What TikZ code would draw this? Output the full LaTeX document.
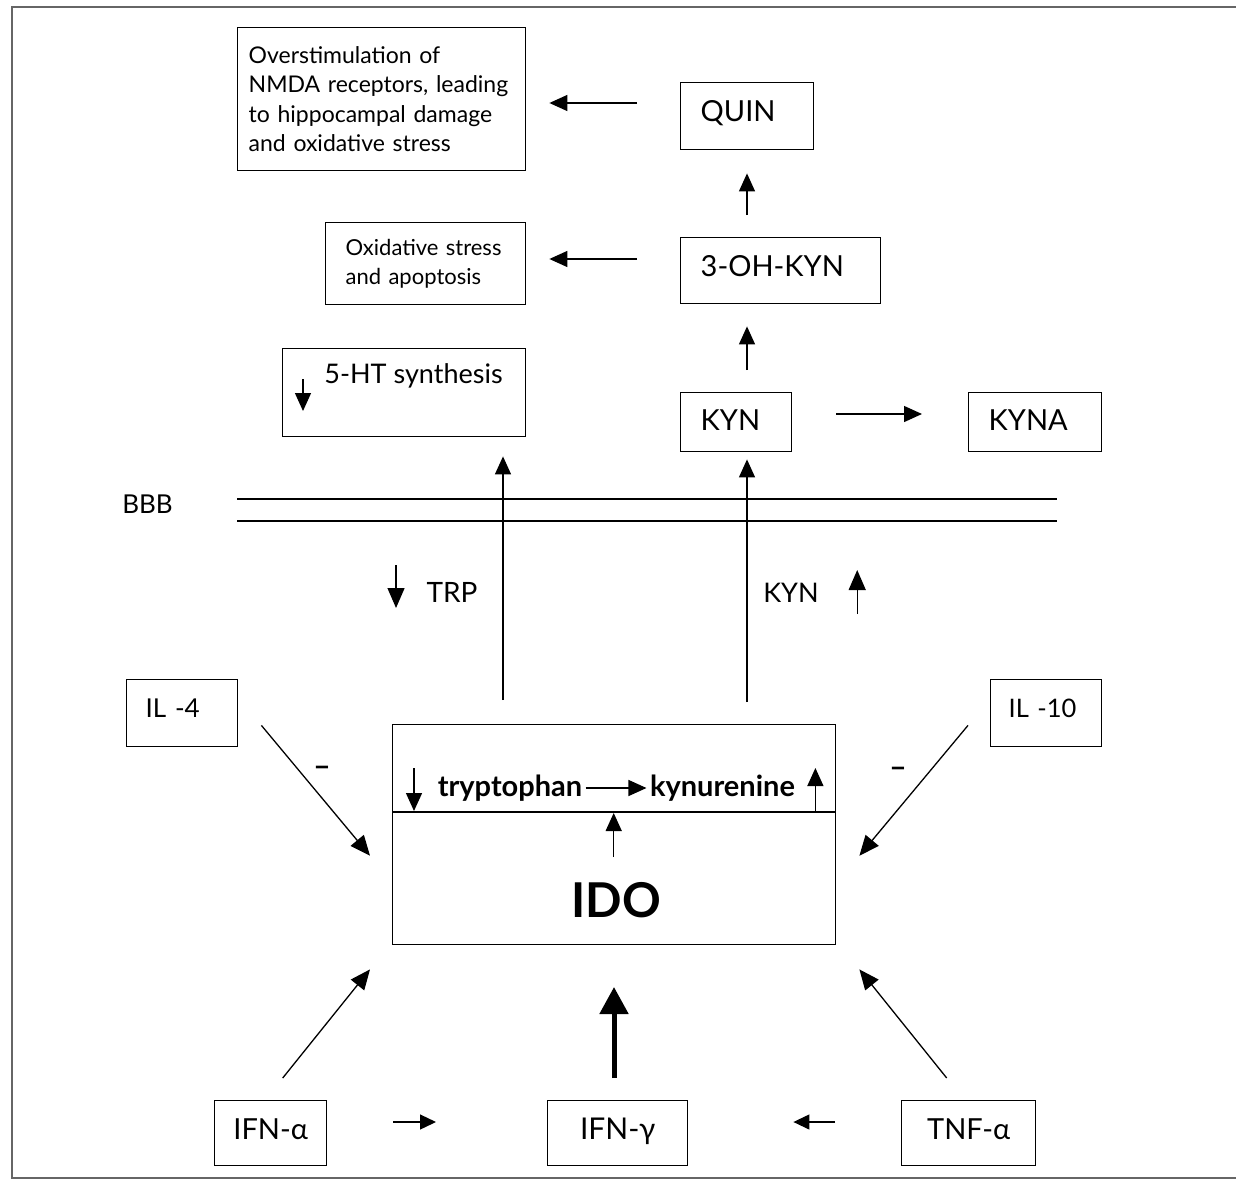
\documentclass[tikz,border=0pt]{standalone}
\usepackage{fontspec}
\setmainfont{Lato}
\usetikzlibrary{arrows.meta,calc}
\begin{document}
\begin{tikzpicture}[x=1pt,y=-1pt,
  box/.style={draw, line width=1.4pt, inner ysep=0pt, align=left, anchor=north west},
  cbox/.style={draw, line width=1.4pt, inner sep=0pt, align=center, anchor=north west},
  lift/.style={text depth=10pt},
  arr/.style={line width=1.3pt, -{Triangle[length=18pt,width=16pt]}},
  sarr/.style={line width=1.3pt, -{Triangle[length=16pt,width=15pt]}},
  darr/.style={line width=1.3pt, -{Triangle[length=20pt,width=17pt]}},
  tarr/.style={line width=5pt, -{Triangle[length=27pt,width=28pt]}},
  txt/.style={font=\fontsize{27}{31}\selectfont},
  btxt/.style={font=\bfseries\fontsize{29}{33}\selectfont},
  bigtxt/.style={font=\fontsize{29}{33}\selectfont}
]
\useasboundingbox (0,0) rectangle (1236,1183);
\fill[white] (0,0) rectangle (1236,1183);
% frame
\draw[line width=2pt, black!60] (1240,7) -- (12,7) -- (12,1178) -- (1240,1178);

% upper boxes
\node[box, inner xsep=11pt, text width=266pt, minimum height=143pt, font=\fontsize{23}{29.5}\selectfont] (nmda) at (237,27)
  {Overstimulation of\\NMDA receptors, leading\\to hippocampal damage\\and oxidative stress};
\node[box, inner xsep=20pt, text width=160pt, minimum height=82pt, font=\fontsize{22}{29}\selectfont] (ox) at (325,222)
  {Oxidative stress\\and apoptosis};
\node[box, minimum width=243pt, minimum height=88pt] (ht) at (282,348) {};
\node[font=\fontsize{27}{31}\selectfont] (httxt) at (413.5,376) {5-HT synthesis};
\draw[arr] ([shift={(21,31)}]ht.north west) -- ([shift={(21,63)}]ht.north west);

\node[box, inner xsep=20pt, text width=93pt, minimum height=67pt, lift, bigtxt] (quin) at (680,82) {QUIN};
\node[box, inner xsep=20pt, text width=160pt, minimum height=66pt, lift, bigtxt] (ohkyn) at (680,237) {3-OH-KYN};
\node[box, inner xsep=20pt, text width=71pt, minimum height=59pt, text depth=5pt, bigtxt] (kyn) at (680,392) {KYN};
\node[box, inner xsep=20pt, text width=93pt, minimum height=59pt, text depth=5pt, bigtxt] (kyna) at (968,392) {KYNA};

% arrows upper
\draw[arr, shorten <=43pt, shorten >=23pt] (quin.west |- 0,103) -- (nmda.east |- 0,103);
\draw[arr, shorten <=43pt, shorten >=23pt] (ohkyn.west |- 0,259) -- (ox.east |- 0,259);
\draw[arr, shorten <=22pt, shorten >=23pt] (ohkyn.north -| 747,0) -- (quin.south -| 747,0);
\draw[arr, shorten <=22pt, shorten >=22pt] (kyn.north -| 747,0) -- (ohkyn.south -| 747,0);
\draw[arr, shorten <=44pt, shorten >=46pt] (kyn.east |- 0,414) -- (kyna.west |- 0,414);

% BBB
\node[font=\fontsize{26}{30}\selectfont] (bbb) at (147.5,504) {BBB};
\draw[line width=1.3pt] (237,499) -- (1057,499);
\draw[line width=1.3pt] (237,521) -- (1057,521);

% IDO
\node[box, minimum width=443pt, minimum height=220pt] (ido) at (392,724) {};
\draw[line width=1.4pt] ([yshift=-88pt]ido.north west) -- ([yshift=-88pt]ido.north east);
\node[btxt] (tryp) at (510,788) {tryptophan};
\node[btxt] (kynu) at (722.5,788) {kynurenine};
\draw[arr] (tryp.east) -- (kynu.west);
\draw[arr] ([shift={(22,44)}]ido.north west) -- ([shift={(22,87)}]ido.north west);
\draw[arr] ([shift={(-21,87)}]ido.north east) -- ([shift={(-21,44)}]ido.north east);
\draw[arr] ([shift={(-0.5,133)}]ido.north) -- ([shift={(-0.5,89)}]ido.north);
\node[font=\bfseries\fontsize{48}{52}\selectfont] (idot) at (616,900) {IDO};

% crossing arrows
\draw[arr, shorten <=24pt, shorten >=19pt] (ido.north -| 503,0) -- (ht.south -| 503,0);
\draw[arr, shorten <=22pt, shorten >=7pt] (ido.north -| 747,0) -- (kyn.south -| 747,0);
\node[font=\fontsize{28}{32}\selectfont] (trp) at (452,592) {TRP};
\draw[darr] ([shift={(-27,-27)}]trp.west) -- ([shift={(-27,16)}]trp.west);
\node[txt] (kynl) at (791,593) {KYN};
\draw[darr] ([shift={(35,21)}]kynl.east) -- ([shift={(35,-23)}]kynl.east);

% IL boxes
\node[box, inner xsep=19pt, text width=73pt, minimum height=67pt, lift, font=\fontsize{26}{30}\selectfont] (il4) at (126,679) {IL -4};
\node[box, inner xsep=18pt, text width=75pt, minimum height=67pt, lift, font=\fontsize{25.5}{30}\selectfont] (il10) at (990,679) {IL -10};
\draw[darr] ([shift={(23,-22)}]il4.south east) -- ([shift={(-22,21)}]ido.west);
\draw[darr] ([shift={(-22,-22)}]il10.south west) -- ([shift={(23,21)}]ido.east);
\node[font=\bfseries\fontsize{30}{32}\selectfont] (m1) at (322,771) {–};
\node[font=\bfseries\fontsize{30}{32}\selectfont] (m2) at (898,772) {–};

% bottom boxes
\node[cbox, text width=112pt, minimum height=65pt, text depth=8pt, bigtxt] (ifna) at (214,1100) {IFN-α};
\node[cbox, text width=140pt, minimum height=65pt, text depth=8pt, font=\fontsize{30}{34}\selectfont] (ifng) at (547,1100) {IFN-γ};
\node[cbox, text width=134pt, minimum height=65pt, text depth=8pt, bigtxt] (tnfa) at (901,1100) {TNF-α};
\draw[darr] ([shift={(12,-22)}]ifna.north) -- ([shift={(-22,24)}]ido.south west);
\draw[darr] ([shift={(-22,-22)}]tnfa.north) -- ([shift={(23,24)}]ido.south east);
\draw[tarr] (ifng.north -| 614,0) ++(0,-22) -- (614,987);
\draw[sarr, shorten <=66pt, shorten >=111pt] (ifna.east |- 0,1122) -- (ifng.west |- 0,1122);
\draw[sarr, shorten <=66pt, shorten >=105pt] (tnfa.west |- 0,1122) -- (ifng.east |- 0,1122);
\end{tikzpicture}
\end{document}
